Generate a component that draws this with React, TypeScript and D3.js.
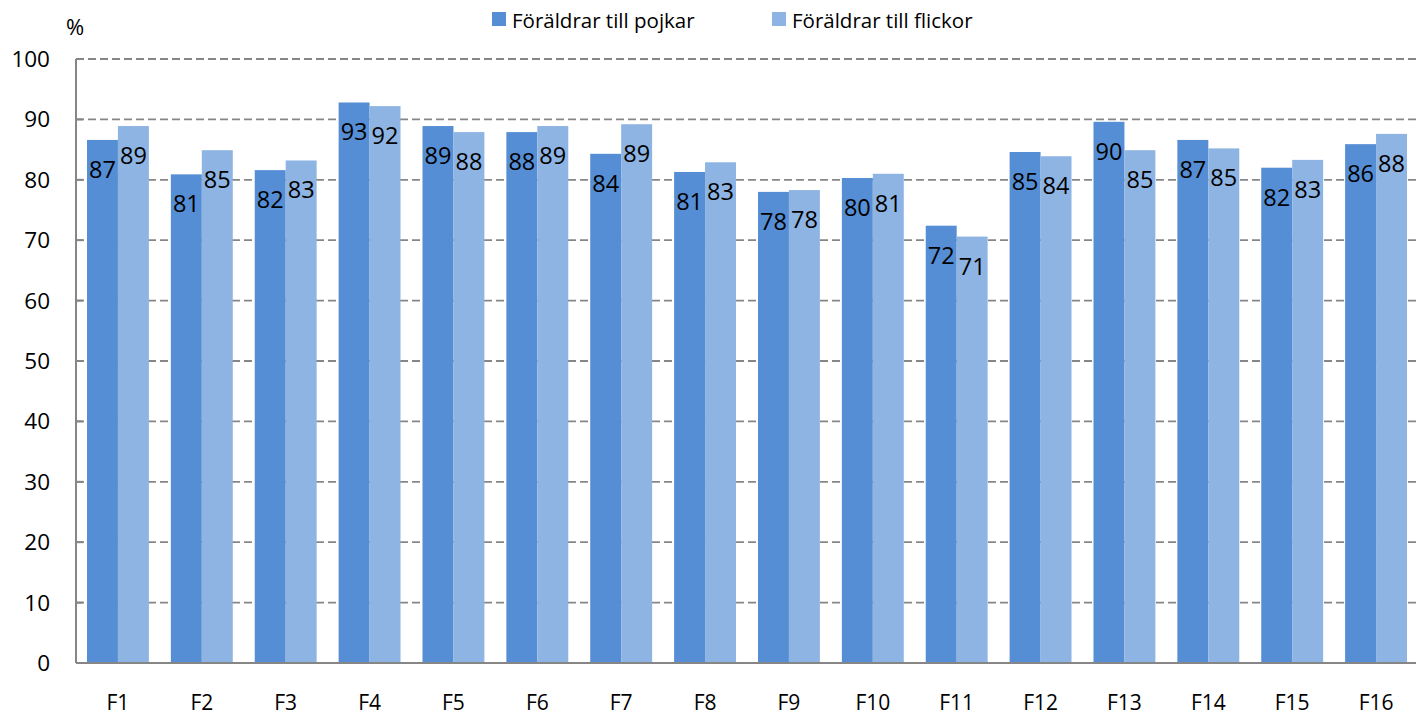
import * as d3 from 'd3';
import * as React from 'react';

const categories = ['F1', 'F2', 'F3', 'F4', 'F5', 'F6', 'F7', 'F8', 'F9', 'F10', 'F11', 'F12', 'F13', 'F14', 'F15', 'F16'];
const seriesNames = ['Föräldrar till pojkar', 'Föräldrar till flickor'];
const pojkar = [86.6, 80.9, 81.6, 92.8, 88.9, 87.9, 84.3, 81.3, 78.0, 80.3, 72.4, 84.6, 89.6, 86.6, 82.0, 85.9];
const flickor = [88.9, 84.9, 83.2, 92.2, 87.9, 88.9, 89.2, 82.9, 78.3, 81.0, 70.6, 83.9, 84.9, 85.2, 83.3, 87.6];
const yTicks = [0, 10, 20, 30, 40, 50, 60, 70, 80, 90, 100];
const colors = ['#558ED5', '#8EB4E3'];

const width = 1416;
const height = 717;
const margin = {left: 76, right: -2, top: 59, bottom: 54};
const font = '"Open Sans", Lato, sans-serif';

export default function App() {
    const x = d3.scaleBand<string>()
        .domain(categories)
        .range([margin.left, width - margin.right])
        .paddingInner(0.262)
        .paddingOuter(0.131);

    const x1 = d3.scaleBand<number>()
        .domain([0, 1])
        .range([0, x.bandwidth()]);

    const y = d3.scaleLinear()
        .domain([0, 100])
        .range([height - margin.bottom, margin.top]);

    const series = [pojkar, flickor];

    return (
        <svg width={width} height={height} style={{position: 'absolute', left: 0, top: 0}} fontFamily={font}>
            {/* gridlines */}
            <g>
                {yTicks.filter((t) => t > 0).map((t) => (
                    <line key={t} x1={margin.left} x2={width} y1={y(t)} y2={y(t)}
                        stroke='#868686' strokeWidth={1.8} strokeDasharray='8,4' />
                ))}
            </g>
            {/* bars */}
            {series.map((vals, si) => (
                <g key={si}>
                    {vals.map((v, i) => (
                        <rect key={i}
                            x={x(categories[i])! + x1(si)!}
                            y={y(v)}
                            width={x1.bandwidth()}
                            height={y(0) - y(v)}
                            fill={colors[si]} />
                    ))}
                </g>
            ))}
            {/* data labels */}
            {series.map((vals, si) => (
                <g key={'l' + si}>
                    {vals.map((v, i) => (
                        <text key={i}
                            x={x(categories[i])! + x1(si)! + x1.bandwidth() / 2}
                            y={y(v) + 38}
                            textAnchor='middle'
                            fontSize={23.5}
                            fill='#000'>
                            {Math.round(v)}
                        </text>
                    ))}
                </g>
            ))}
            {/* y axis */}
            <line x1={margin.left} x2={margin.left} y1={y(100)} y2={y(0)} stroke='#868686' strokeWidth={2} />
            {yTicks.map((t) => (
                <g key={t} transform={`translate(0,${y(t)})`}>
                    <line x1={margin.left} x2={margin.left + 7} y1={0} y2={0} stroke='#868686' strokeWidth={2} />
                    <text x={50} y={8} textAnchor='end' fontSize={22.5} fill='#000'>{t}</text>
                </g>
            ))}
            <text x={75} y={35} textAnchor='middle' fontSize={22} fill='#000'>%</text>
            {/* x axis */}
            <line x1={margin.left} x2={width} y1={y(0)} y2={y(0)} stroke='#868686' strokeWidth={2} />
            {categories.map((c) => (
                <text key={c} x={x(c)! + x.bandwidth() / 2} y={710} textAnchor='middle' fontSize={21} fill='#000'>{c}</text>
            ))}
            {/* legend */}
            {seriesNames.map((name, i) => {
                const lx = [492, 772][i];
                return (
                    <g key={name} transform={`translate(${lx},12)`}>
                        <rect x={0} y={0} width={14} height={14} fill={colors[i]} />
                        <text x={20} y={15.5} fontSize={20.5} fill='#000'>{name}</text>
                    </g>
                );
            })}
        </svg>
    );
}
